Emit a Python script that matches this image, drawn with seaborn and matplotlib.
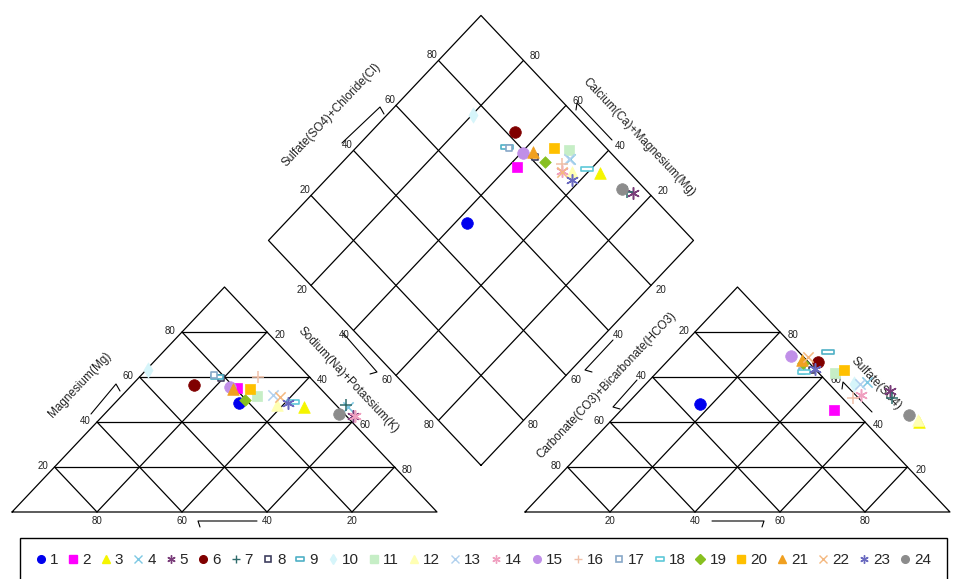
import numpy as np
import pandas as pd
import matplotlib
matplotlib.use('Agg')
import matplotlib.pyplot as plt
import seaborn as sns
from matplotlib.lines import Line2D
from matplotlib.path import Path

# samples 1..24
samples = [str(i) for i in range(1, 25)]

# cation triangle : Mg and Na+K (%)
cat_mg = [48.4, 55.1, 46.7, 46.7, 42.7, 56.4, 47.6, 59.5, 60.0, 63.0, 51.6, 47.6,
          52.0, 42.5, 55.6, 60.0, 61.0, 48.9, 49.8, 54.7, 54.7, 51.0, 48.4, 43.6]
cat_nak = [29.2, 25.3, 45.3, 55.8, 58.9, 14.6, 54.8, 19.5, 18.2, 0.5, 31.8, 38.5,
           35.4, 59.5, 23.5, 27.9, 17.0, 41.7, 29.9, 28.7, 24.7, 37.6, 40.8, 55.1]

# anion triangle : SO4 and Cl (%)
an_so4 = [48.0, 45.3, 40.0, 57.8, 53.8, 66.7, 50.7, 63.0, 71.1, 57.0, 62.0, 41.0,
          56.9, 52.0, 69.3, 50.7, 62.5, 62.2, 66.2, 63.1, 67.6, 68.9, 63.6, 43.1]
an_cl = [17.2, 50.0, 72.8, 51.5, 59.0, 35.6, 61.0, 36.0, 35.7, 49.0, 42.0, 72.0,
         50.4, 53.0, 27.9, 51.9, 34.0, 34.5, 32.3, 43.5, 31.4, 32.2, 36.4, 68.8]

# diamond : Ca+Mg and SO4+Cl (%)
dia_camg = [57.1, 57.8, 37.0, 47.0, 24.8, 66.1, 26.5, 55.8, 64.6, 79.8, 49.4, 43.8,
            47.4, 46.5, 59.5, 48.0, 64.0, 40.9, 52.4, 53.4, 57.4, 46.2, 42.0, 28.3]
dia_so4cl = [50.6, 74.8, 93.0, 89.0, 96.3, 82.1, 95.0, 81.3, 76.9, 76.0, 90.8, 86.6,
             88.8, 84.5, 79.3, 86.0, 77.0, 90.8, 82.5, 87.7, 81.9, 84.3, 84.8, 94.6]

marker_codes = ['o', 's', '^', 'x', 'ast', 'o', '+', 'sq', 'rect', 'd', 's', '^',
                'x', 'ast', 'o', '+', 'sq', 'rect', 'D', 's', '^', 'x', 'ast', 'o']
colours = ['#0000EE', '#FF00FF', '#F5F500', '#7EC8E3', '#7A3D7A', '#800000', '#2E6B6B', '#404060',
           '#4FB0C6', '#D6F5FA', '#C6EEC6', '#FFFFB3', '#B0D0EE', '#F0A0C0', '#C08FE8', '#F0C0A8',
           '#88A8C8', '#5EC8D8', '#88C020', '#FFC000', '#F0A020', '#F4B880', '#6A6AC0', '#8C8C8C']

rect_path = Path([(-1, -0.4), (1, -0.4), (1, 0.4), (-1, 0.4), (-1, -0.4)], closed=True)
marker_map = {'o': ('o', 70, True), 's': ('s', 60, True), '^': ('^', 70, True),
              'x': ('x', 55, False), 'ast': ((6, 2, 0), 70, False), '+': ('+', 70, False),
              'sq': ('s', 22, 'hollow'), 'rect': (rect_path, 70, 'hollow'),
              'd': ('d', 60, True), 'D': ('D', 35, True)}

H = np.sqrt(3) / 2
G = 0.207   # gap between triangles

def cat_xy(mg, nak):
    return nak / 100 + mg / 200, mg / 100 * H

def an_xy(so4, cl):
    return 1 + G + cl / 100 + so4 / 200, so4 / 100 * H

def dia_xy(camg, so4cl):
    return 1 + G / 2 + 0.5 * (so4cl - camg) / 100, (G + (camg + so4cl) / 100) * H

sns.set_style('white')
plt.rcParams['font.family'] = ['Liberation Sans', 'DejaVu Sans']

fig = plt.figure(figsize=(9.56, 5.79), dpi=100)
ax = fig.add_axes([0, 0, 1, 1])
SX, SY = 425.0, 259.8
x0, y0 = -12 / SX, -67 / SY
ax.set_xlim(x0, x0 + 956 / SX)
ax.set_ylim(y0, y0 + 579 / SY)
ax.axis('off')

def P(px, py):
    return x0 + px / SX, y0 + (579 - py) / SY

lw = 0.9
lc = 'black'
levels = [0.2, 0.4, 0.6, 0.8]

# triangles
for ox in [0, 1 + G]:
    ax.plot([ox, ox + 1, ox + 0.5, ox], [0, 0, H, 0], color=lc, lw=lw)
    for f in levels:
        ax.plot([ox + f / 2, ox + 1 - f / 2], [f * H, f * H], color=lc, lw=lw)
        ax.plot([ox + f, ox + f / 2], [0, f * H], color=lc, lw=lw)
        ax.plot([ox + f, ox + (1 + f) / 2], [0, (1 - f) * H], color=lc, lw=lw)

# diamond
B = np.array([1 + G / 2, G * H])
up_l = np.array([-0.5, H])
up_r = np.array([0.5, H])
L, T, R = B + up_l, B + up_l + up_r, B + up_r
ax.plot([B[0], L[0], T[0], R[0], B[0]], [B[1], L[1], T[1], R[1], B[1]], color=lc, lw=lw)
for f in levels:
    s1 = B + f * up_l
    e1 = s1 + up_r
    ax.plot([s1[0], e1[0]], [s1[1], e1[1]], color=lc, lw=lw)
    s2 = B + f * up_r
    e2 = s2 + up_l
    ax.plot([s2[0], e2[0]], [s2[1], e2[1]], color=lc, lw=lw)

# tick labels
tk = dict(fontsize=7, ha='center', va='center', textcoords='offset pixels', color='#222222')
for f in levels:
    v = int(round(f * 100))
    ax.annotate(str(100 - v), xy=(f, 0), xytext=(0, -9), **tk)
    ax.annotate(str(v), xy=(f / 2, f * H), xytext=(-12, 1), **tk)
    ax.annotate(str(100 - v), xy=(1 - f / 2, f * H), xytext=(13, -3), **tk)
    ax.annotate(str(v), xy=(1 + G + f, 0), xytext=(0, -9), **tk)
    ax.annotate(str(100 - v), xy=(1 + G + f / 2, f * H), xytext=(-11, 1), **tk)
    ax.annotate(str(v), xy=(2 + G - f / 2, f * H), xytext=(13, -3), **tk)
    p = L + f * up_r
    ax.annotate(str(v), xy=p, xytext=(-6, 5), **tk)
    p = R + f * up_l
    ax.annotate(str(v), xy=p, xytext=(12, 4), **tk)
    p = L + f * np.array([0.5, -H])
    ax.annotate(str(v), xy=p, xytext=(-9, -5), **tk)
    p = R + f * np.array([-0.5, -H])
    ax.annotate(str(v), xy=p, xytext=(10, -5), **tk)

# axis titles
ang = np.degrees(np.arctan2(H * SY, 0.5 * SX))
titles = [('Magnesium(Mg)', (80, 385), ang),
          ('Sodium(Na)+Potassium(K)', (348, 380), -ang),
          ('Sulfate(SO4)+Chloride(Cl)', (331, 115), ang),
          ('Calcium(Ca)+Magnesium(Mg)', (639, 137), -ang),
          ('Carbonate(CO3)+Bicarbonate(HCO3)', (607, 385), ang),
          ('Sulfate(SO4)', (876, 384), -ang)]
for txt, pos, rot in titles:
    ax.text(*P(*pos), txt, rotation=rot, rotation_mode='anchor', ha='center', va='center',
            fontsize=8.5, color='#222222')

# direction arrows : head, tail, small hook at the head
arrows = [((198, 521), (257, 521), (200, 527)),
          ((764, 521), (712, 521), (762, 527)),
          ((116, 384), (91, 414), (120, 391)),
          ((377, 372), (343, 333), (370, 374)),
          ((380, 107), (342, 143), (384, 114)),
          ((577, 103), (612, 140), (576, 110)),
          ((585, 370), (613, 340), (592, 372)),
          ((613, 407), (637, 380), (620, 409)),
          ((843, 382), (872, 412), (842, 389))]
for hd, tl, hk in arrows:
    ph, pt, pk = P(*hd), P(*tl), P(*hk)
    ax.plot([pk[0], ph[0], pt[0]], [pk[1], ph[1], pt[1]], color=lc, lw=0.8)

# points
handles = []
for i, name in enumerate(samples):
    mk, sz, filled = marker_map[marker_codes[i]]
    c = colours[i]
    cx, cy = cat_xy(cat_mg[i], cat_nak[i])
    axx, axy = an_xy(an_so4[i], an_cl[i])
    dx, dy = dia_xy(dia_camg[i], dia_so4cl[i])
    pts = pd.DataFrame({'x': [cx, axx, dx], 'y': [cy, axy, dy]})
    if filled == 'hollow':
        sns.scatterplot(data=pts, x='x', y='y', marker=mk, s=sz, color=c, facecolor='white',
                        edgecolor=c, linewidth=1.2, ax=ax, legend=False, zorder=3)
        handles.append(Line2D([], [], marker=mk, linestyle='none', markersize=6 if mk is rect_path else 4,
                              markerfacecolor='white', markeredgecolor=c, markeredgewidth=1.2))
    elif filled:
        sns.scatterplot(data=pts, x='x', y='y', marker=mk, s=sz, color=c, edgecolor=c,
                        linewidth=0.5, ax=ax, legend=False, zorder=3)
        handles.append(Line2D([], [], marker=mk, linestyle='none', markersize=5.5,
                              color=c, markeredgecolor=c))
    else:
        sns.scatterplot(data=pts, x='x', y='y', marker=mk, s=sz, color=c, edgecolor=c,
                        linewidth=1.1, ax=ax, legend=False, zorder=3)
        handles.append(Line2D([], [], marker=mk, linestyle='none', markersize=6,
                              color=c, markeredgewidth=1.0))

leg = fig.legend(handles, samples, loc='upper left', bbox_to_anchor=(20 / 956, 1 - 538 / 579),
                 ncol=24, fontsize=11, handlelength=0.7, handletextpad=0.25, columnspacing=0.62,
                 borderpad=1.0, borderaxespad=0, frameon=True, fancybox=False,
                 edgecolor='black', framealpha=1)
leg.get_frame().set_linewidth(1.0)

fig.savefig('out.png', dpi=100)
